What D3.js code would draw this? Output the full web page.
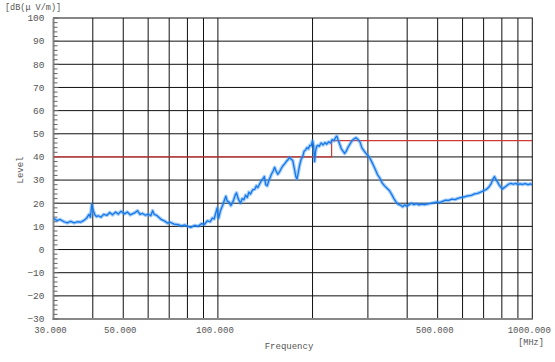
<!DOCTYPE html>
<html><head><meta charset="utf-8">
<script src="https://cdn.jsdelivr.net/npm/d3@7"></script>
<style>body{margin:0;background:#fff}svg{display:block}</style>
</head><body>
<svg id="c" width="555" height="362"></svg>
<script>
// ---- data ----
const freqs = [30,30.8,31.5,32.4,33.2,34,34.9,35.8,36.6,37.5,38.2,38.9,39.3,39.7,40.1,40.6,41.1,41.6,42.5,43.3,44.4,45.3,46.2,47.3,48.2,49.2,50.5,51.5,52.6,54.3,55.5,56.5,57.6,58.8,60,61.2,62,62.7,63.8,65,66,67.5,69.2,70.5,72.5,74.6,76.5,78.5,80.4,82,84.5,86.5,88.8,90.5,92.5,94.5,96,97.3,99.5,100.5,102,103.5,105,106,107,108.5,110,112,113.5,114.6,116,118,119.5,121,122.5,124,125.5,127,129,131,132.5,134,136,137.5,139,140.5,142,143.5,145,146.5,148,150,151.5,153,155,157,159,161,163,165,167,169,171,173,175,177,178.5,180,182,184,186,188,190,192,194,196,198,200,201.5,203,204.5,206,208,210,213,216,219,222,225,228,231,234,237,239,241,244,247,250,253,256,259,263,267,271,275,279,283,287,292,297,302,307,312,317,322,327,333,339,345,351,357,363,369,375,381,387,393,399,406,413,420,428,436,445,455,465,475,485,496,507,518,530,542,555,568,582,596,610,625,640,655,670,685,700,715,728,740,750,758,766,775,785,795,805,815,825,840,855,870,885,900,915,930,950,970,985,1000];
const levels = [13.5,12.5,13,12,11.5,12.2,11.5,12,11.8,12.6,13.5,15.2,14,19.5,17,15,14.2,14.6,14,15.2,14.8,16,15,16.2,15.3,16.5,15.4,16.2,15,15.8,16.8,15.2,15.6,14.8,15.3,14.6,16.8,15.2,14.8,13.8,13,12.4,11.4,11.8,11,10.8,10.2,10.6,10,9.6,10.4,10,11.2,10.8,12.4,12,13.6,13.2,18,13.5,17,19,21.5,23,21,20.5,19,21,23.5,24.5,22,20,22,21.5,23.5,22.5,24.8,24,25.8,26,27.5,26.8,28.5,29.8,30.5,31.5,28,27.5,29.5,31,32.5,34,35.5,34,32.5,33.5,35,36.2,37,38,38.8,39.8,39,38.5,35,31.5,30.5,33,36.5,39,40,42.5,43,44,43.5,45,44.8,47,45,38,42.5,44.5,45,44.6,46,45.2,46.2,45.5,46.5,46,47.5,47,48.5,49,47.5,45.5,43.5,42.5,41.5,42.5,44,45.5,47,47.8,48.3,47.5,46.5,44,42.5,41.2,40.2,38.5,36.5,34.5,32.3,31,28.8,27.5,26.5,25.5,23.8,22,20.5,19.5,19.2,18.5,19.3,18.7,19.4,20,19.4,19.8,19.3,19.6,19.4,19.7,19.9,20.2,20.5,20.3,20.8,21.3,21.2,21.8,21.6,22.2,22.5,22.8,23.2,23.4,24,24.3,24.8,25.4,26,27,28.5,30.5,31.5,30.3,29.2,27.8,26.8,26.2,26.8,27.3,28.2,28.6,28.2,28.6,28,28.4,28.1,28.5,28,28.4,28];
const limitFreqs = [30,230,230,1000];
const limitLevels = [40,40,47,47];
const xTickValues = [30,50,100,500,1000];
const xTickLabels = ["30.000","50.000","100.000","500.000","1000.000"];
const xGrid = [40,50,60,70,80,90,100,200,300,400,500,600,700,800,900];
const yTickValues = [100,90,80,70,60,50,40,30,20,10,0,-10,-20,-30];

// ---- layout ----
const L=53.5,R=532.3,T=18,B=319;
const svg=d3.select("#c");
const x=d3.scaleLog().domain([30,1000]).range([L,R]);
const y=d3.scaleLinear().domain([-30,100]).range([B,T]);
const font="'Liberation Mono', 'DejaVu Sans Mono', monospace";
const txt="#555";

// grid
svg.append("g").selectAll("line").data(xGrid).join("line")
  .attr("x1",d=>x(d)).attr("x2",d=>x(d)).attr("y1",T).attr("y2",B)
  .attr("stroke","#111").attr("stroke-width",1);
svg.append("g").selectAll("line").data(yTickValues.filter(v=>v>-30&&v<100)).join("line")
  .attr("x1",L).attr("x2",R).attr("y1",d=>y(d)).attr("y2",d=>y(d))
  .attr("stroke","#111").attr("stroke-width",1);

// frame
svg.append("rect").attr("x",L).attr("y",T).attr("width",R-L).attr("height",B-T)
  .attr("fill","none").attr("stroke","#111").attr("stroke-width",1);
svg.append("line").attr("x1",L).attr("x2",L).attr("y1",T).attr("y2",B+1)
  .attr("stroke","#888").attr("stroke-width",2);
svg.append("line").attr("x1",L-1).attr("x2",R).attr("y1",B).attr("y2",B)
  .attr("stroke","#888").attr("stroke-width",2);

// minor ticks on y
const minor=d3.range(-30,100.1,2);
svg.append("g").selectAll("line").data(minor).join("line")
  .attr("x1",L).attr("x2",d=>L+(d%10===0?5:4)).attr("y1",d=>y(d)).attr("y2",d=>y(d))
  .attr("stroke","#666").attr("stroke-width",1);

// clip
svg.append("clipPath").attr("id","clip").append("rect")
  .attr("x",L).attr("y",T).attr("width",R-L).attr("height",B-T);

// limit line
const lim=limitFreqs.map((f,i)=>[f,limitLevels[i]]);
svg.append("path").datum(lim)
  .attr("d",d3.line().x(d=>x(d[0])).y(d=>y(d[1])))
  .attr("fill","none").attr("stroke","#d23a3a").attr("stroke-width",1.2)
  .attr("clip-path","url(#clip)");

// trace
const tr=freqs.map((f,i)=>[f,levels[i]]);
const line=d3.line().x(d=>x(d[0])).y(d=>y(d[1]));
svg.append("path").datum(tr).attr("d",line).attr("fill","none")
  .attr("stroke","#4a9cf5").attr("stroke-opacity",0.5).attr("stroke-width",3.6)
  .attr("stroke-linejoin","round").attr("clip-path","url(#clip)");
svg.append("path").datum(tr).attr("d",line).attr("fill","none")
  .attr("stroke","#1678e8").attr("stroke-width",1.3)
  .attr("stroke-linejoin","round").attr("clip-path","url(#clip)");

// y labels
svg.append("g").selectAll("text").data(yTickValues).join("text")
  .attr("x",44.5).attr("y",d=>y(d)).attr("dy","0.35em").attr("text-anchor","end")
  .attr("font-family",font).attr("font-size",9.5).attr("fill",txt)
  .text(d=>d3.format("d")(d).replace("-","\u2212"));

// x labels
svg.append("g").selectAll("text").data(xTickValues).join("text")
  .attr("x",d=>x(d)-3).attr("y",333).attr("text-anchor","middle")
  .attr("font-family",font).attr("font-size",9).attr("fill",txt)
  .text((d,i)=>xTickLabels[i]);

// axis titles
svg.append("text").attr("x",5).attr("y",10).attr("font-family",font)
  .attr("font-size",8.5).attr("fill",txt).text("[dB(\u03bc V/m)]");
svg.append("text").attr("transform","translate(23,170) rotate(-90)")
  .attr("text-anchor","middle").attr("font-family",font).attr("font-size",9)
  .attr("fill",txt).text("Level");
svg.append("text").attr("x",289).attr("y",349).attr("text-anchor","middle")
  .attr("font-family",font).attr("font-size",9).attr("fill",txt).text("Frequency");
svg.append("text").attr("x",531).attr("y",345).attr("text-anchor","middle")
  .attr("font-family",font).attr("font-size",8.5).attr("fill",txt).text("[MHz]");
</script>
</body></html>
